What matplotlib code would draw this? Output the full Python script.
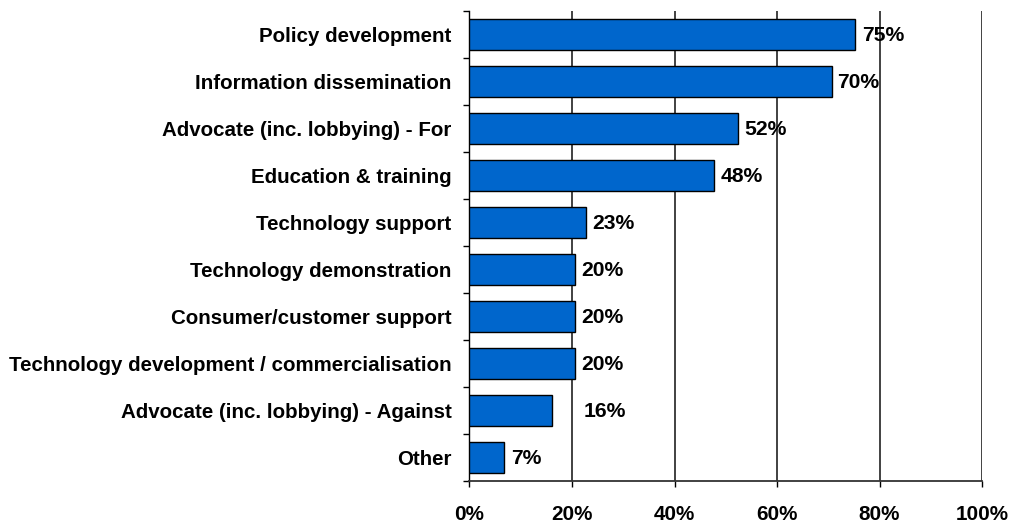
import matplotlib
matplotlib.use("Agg")
import matplotlib.pyplot as plt
import numpy as np

categories = [
    "Policy development",
    "Information dissemination",
    "Advocate (inc. lobbying) - For",
    "Education & training",
    "Technology support",
    "Technology demonstration",
    "Consumer/customer support",
    "Technology development / commercialisation",
    "Advocate (inc. lobbying) - Against",
    "Other",
]
values = [75.2, 70.8, 52.4, 47.8, 22.8, 20.6, 20.6, 20.6, 16.1, 6.7]
value_labels = ["75%", "70%", "52%", "48%", "23%", "20%", "20%", "20%", "16%", "7%"]
x_ticks = [0, 20, 40, 60, 80, 100]
x_tick_labels = ["0%", "20%", "40%", "60%", "80%", "100%"]

plt.rcParams["font.family"] = ["Liberation Sans", "DejaVu Sans"]
plt.rcParams["font.weight"] = "bold"

fig = plt.figure(figsize=(10.14, 5.27), dpi=100)
ax = fig.add_axes([0.463, 0.0873, 0.5055, 0.892])

n = len(categories)
y = np.arange(n)
ax.barh(y, values, height=0.66, color="#0066CC", edgecolor="black", linewidth=1.0, zorder=3)

ax.set_xlim(0, 100)
ax.set_ylim(n - 0.5, -0.5)

# value labels (the "Against" label is nudged right in the original)
nudges = [7, 5, 6, 6, 6, 6, 6, 6, 32, 7]
for yi, v, lab, dx in zip(y, values, value_labels, nudges):
    ax.annotate(lab, xy=(v, yi), xytext=(dx, -1), textcoords="offset pixels",
                va="center", ha="left", fontsize=15.2, fontweight="bold", zorder=4)

ax.set_xticks(x_ticks)
ax.set_xticklabels(x_tick_labels, fontsize=14.9, fontweight="bold")
ax.tick_params(axis="x", length=4.5, width=1, pad=12.5, color="black")

# category labels at centres, tick marks at boundaries
ax.set_yticks(y)
ax.set_yticklabels(categories, fontsize=14.8, fontweight="bold")
ax.tick_params(axis="y", which="major", length=0, pad=13)
ax.set_yticks(np.arange(n + 1) - 0.5, minor=True)
ax.tick_params(axis="y", which="minor", length=4.5, width=1, color="black")

for xv in x_ticks[1:]:
    ax.axvline(xv, color="#333333", linewidth=1.3, zorder=1)

for s in ["top", "right"]:
    ax.spines[s].set_visible(False)
ax.spines["left"].set_color("black")
ax.spines["bottom"].set_color("#333333")
ax.spines["bottom"].set_linewidth(1.3)
ax.spines["left"].set_linewidth(1.0)

fig.savefig("out.png", dpi=100)
